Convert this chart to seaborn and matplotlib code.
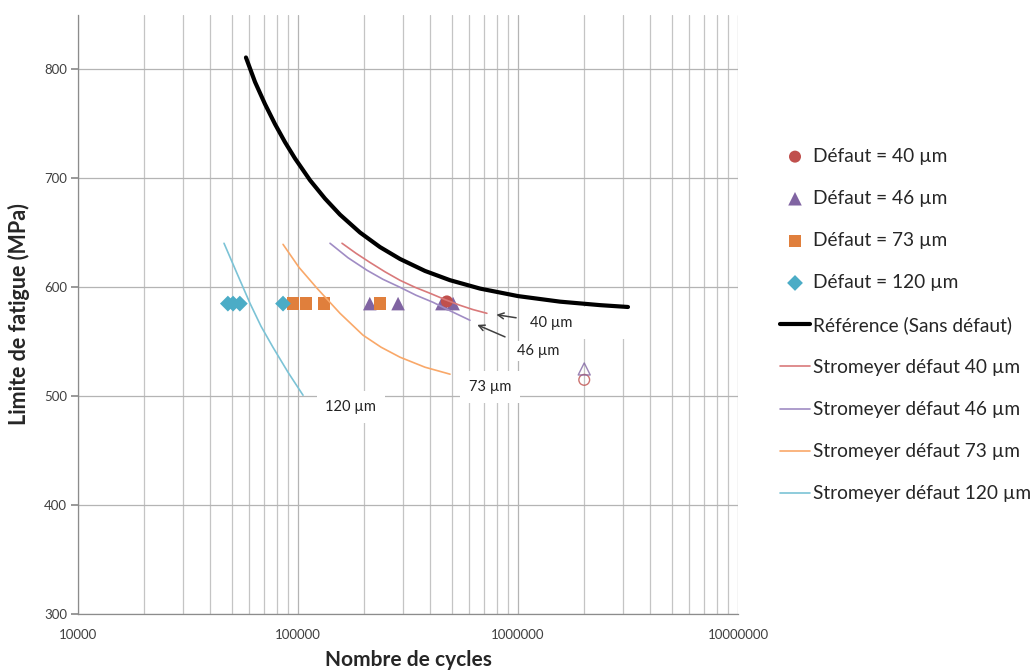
import matplotlib
matplotlib.use("Agg")
import matplotlib.pyplot as plt
from matplotlib.patches import Rectangle
import seaborn as sns

# ---------------- data ----------------
ref_N = [58000, 63770, 70790, 78620, 87300, 96900, 113400, 132700, 155200, 191300,
         235900, 290800, 377800, 490900, 672000, 1000000, 1552000, 2359000, 3162000]
ref_S = [811, 788.5, 768.2, 749.8, 733.2, 718.3, 698.3, 681.4, 666.7, 650.3,
         636.9, 626, 615, 606.5, 598.8, 591.9, 586.8, 583.6, 581.9]

strom40_N = [158500, 183500, 212000, 248600, 290800, 340200, 398000, 465800, 544000, 624500, 722000]
strom40_S = [640.4, 631.2, 622.9, 614.2, 606.4, 600, 594.5, 588.7, 583.5, 579.5, 576.1]
strom46_N = [139800, 168800, 205900, 243400, 290800, 343900, 410900, 496000, 605000]
strom46_S = [640.4, 627.1, 615.6, 607.3, 600, 592.7, 586.2, 578, 569.7]
strom73_N = [85500, 101000, 122000, 155200, 197500, 238400, 290800, 377800, 491000]
strom73_S = [639.4, 618.3, 599.1, 576.1, 556, 545, 535.8, 526.6, 520.2]
strom120_N = [46100, 52800, 60500, 67900, 76900, 90050, 105400]
strom120_S = [640.4, 612.8, 585.3, 564.2, 545, 522, 500.9]

d40_N = [475000]
d40_S = [587]
d46_N = [212000, 285000, 451000, 507000]
d46_S = [585, 585, 585, 585]
d73_N = [94900, 108700, 131000, 236000]
d73_S = [585, 585, 585, 585]
d120_N = [48000, 50700, 54400, 85500]
d120_S = [585, 585, 585, 585]

# run-outs (open markers)
d40_runout_N = [2000000]
d40_runout_S = [515]
d46_runout_N = [2000000]
d46_runout_S = [525]

# labels of the Stromeyer curves
ann_text = ["40 µm", "46 µm", "73 µm", "120 µm"]

C_RED, C_PUR, C_ORA, C_CYA = "#C0504D", "#8064A2", "#E07F3C", "#4BACC6"
L_RED, L_PUR, L_ORA, L_CYA = "#D9797A", "#A08CC4", "#F9A869", "#7CC3D6"

sns.set_theme(style="white")
plt.rcParams["font.family"] = ["Lato", "DejaVu Sans"]

fig = plt.figure(figsize=(10.35, 6.72), dpi=100)
ax = fig.add_axes([78/1035, 1-614/672, (738-78)/1035, (614-15)/672])
ax.set_xscale("log")
ax.set_xlim(1e4, 1e7)
ax.set_ylim(300, 850)

# grid
ax.grid(True, which="major", axis="both", color="#b4b4b4", lw=0.9)
ax.grid(True, which="minor", axis="x", color="#c4c4c4", lw=0.9)
ax.set_axisbelow(True)

# white text-box area behind the "40 µm" label (hides the grid there)
ax.add_patch(Rectangle(((520-78)/660, (614-339)/599), (642-520)/660, (339-307)/599,
                       transform=ax.transAxes, fc="white", ec="none", zorder=1))

# markers
sns.scatterplot(x=d40_N, y=d40_S, marker="o", color=C_RED, s=75, edgecolor="none",
                label="Défaut = 40 µm", ax=ax, zorder=4)
sns.scatterplot(x=d46_N, y=d46_S, marker="^", color=C_PUR, s=95, edgecolor="none",
                label="Défaut = 46 µm", ax=ax, zorder=3)
sns.scatterplot(x=d73_N, y=d73_S, marker="s", color=C_ORA, s=80, edgecolor="none",
                label="Défaut = 73 µm", ax=ax, zorder=3)
sns.scatterplot(x=d120_N, y=d120_S, marker="D", color=C_CYA, s=65, edgecolor="none",
                label="Défaut = 120 µm", ax=ax, zorder=3)
ax.scatter(d40_runout_N, d40_runout_S, marker="o", s=60, facecolors="none",
           edgecolors=C_RED, linewidths=1.0, zorder=3, alpha=0.8)
ax.scatter(d46_runout_N, d46_runout_S, marker="^", s=75, facecolors="none",
           edgecolors=C_PUR, linewidths=1.0, zorder=3, alpha=0.8)

# lines
sns.lineplot(x=ref_N, y=ref_S, color="black", lw=3, label="Référence (Sans défaut)", ax=ax, zorder=5)
sns.lineplot(x=strom40_N, y=strom40_S, color=L_RED, lw=1.2, label="Stromeyer défaut 40 µm", ax=ax, zorder=4)
sns.lineplot(x=strom46_N, y=strom46_S, color=L_PUR, lw=1.2, label="Stromeyer défaut 46 µm", ax=ax, zorder=4)
sns.lineplot(x=strom73_N, y=strom73_S, color=L_ORA, lw=1.2, label="Stromeyer défaut 73 µm", ax=ax, zorder=4)
sns.lineplot(x=strom120_N, y=strom120_S, color=L_CYA, lw=1.2, label="Stromeyer défaut 120 µm", ax=ax, zorder=4)

# annotations
box = dict(boxstyle="square,pad=0.6", fc="white", ec="none")
ax.annotate(ann_text[0], xy=(786000, 575), xytext=(1134000, 567), fontsize=10.5,
            ha="left", va="center", color="#222222",
            bbox=dict(boxstyle="square,pad=0.2", fc="white", ec="none"),
            arrowprops=dict(arrowstyle="->", color="#404040", lw=1.1, shrinkA=8, shrinkB=1), zorder=6)
ax.annotate(ann_text[1], xy=(644000, 566), xytext=(989000, 541.3), fontsize=10.5,
            ha="left", va="center", color="#222222",
            bbox=dict(boxstyle="square,pad=0.2", fc="white", ec="none"),
            arrowprops=dict(arrowstyle="->", color="#404040", lw=1.1, shrinkA=8, shrinkB=1), zorder=6)
ax.text(746000, 508.3, ann_text[2], fontsize=10.5, ha="center", va="center",
        color="#222222", bbox=box, zorder=6)
ax.text(174000, 489.9, ann_text[3], fontsize=10.5, ha="center", va="center",
        color="#222222", bbox=box, zorder=6)

# axes styling
for s in ["top", "right"]:
    ax.spines[s].set_visible(False)
for s in ["left", "bottom"]:
    ax.spines[s].set_color("#8c8c8c")
    ax.spines[s].set_linewidth(0.9)
ax.set_yticks([300, 400, 500, 600, 700, 800])
ax.set_xticks([1e4, 1e5, 1e6, 1e7])
ax.set_xticklabels(["10000", "100000", "1000000", "10000000"])
ax.tick_params(axis="y", which="major", length=5, color="#8c8c8c", labelsize=9.5,
               left=True, labelcolor="#404040", pad=3)
ax.tick_params(axis="x", which="both", length=0, labelsize=9.5, labelcolor="#404040", pad=11)

ax.set_xlabel("Nombre de cycles", fontsize=15, fontweight="bold", labelpad=6.5)
ax.set_ylabel("Limite de fatigue (MPa)", fontsize=15.5, fontweight="bold", labelpad=10)

leg = ax.legend(loc="upper left", bbox_to_anchor=(772/1035, 1-140/672),
                bbox_transform=fig.transFigure, frameon=False, fontsize=13.8,
                labelspacing=1.31, handlelength=1.6, handletextpad=0.12,
                borderaxespad=0, markerscale=1.0)

fig.savefig("out.png", dpi=100, facecolor="white")
